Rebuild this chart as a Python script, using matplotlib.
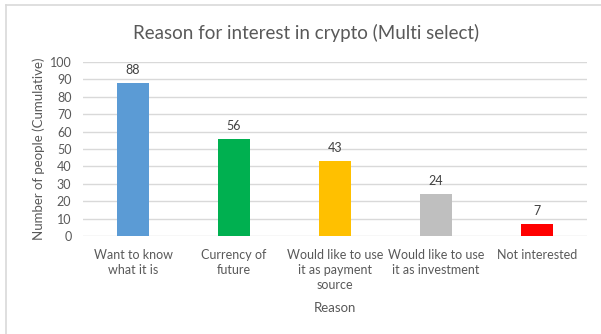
import matplotlib
matplotlib.use('Agg')
import matplotlib.pyplot as plt
import numpy as np

plt.rcParams['font.family'] = ['Lato', 'DejaVu Sans']

reasons = ['Want to know\nwhat it is', 'Currency of\nfuture',
           'Would like to use\nit as payment\nsource',
           'Would like to use\nit as investment', 'Not interested']
counts = [88, 56, 43, 24, 7]
colors = ['#5B9BD5', '#00B050', '#FFC000', '#BFBFBF', '#FF0000']
y_ticks = list(range(0, 101, 10))

txt = '#595959'

fig = plt.figure(figsize=(6.01, 3.34), dpi=100)
ax = fig.add_axes([0.1373, 0.2934, 0.840, 0.521])

x = np.arange(len(reasons))
bars = ax.bar(x, counts, width=0.32, color=colors, zorder=3)
for b, v in zip(bars, counts):
    ax.annotate(str(v), (b.get_x() + b.get_width() / 2, v), xytext=(0, 5),
                textcoords='offset points', ha='center', va='bottom',
                fontsize=9, color='#404040')

ax.set_xlim(-0.5, len(reasons) - 0.5)
ax.set_ylim(0, 100)
ax.set_yticks(y_ticks)
ax.set_xticks(x)
ax.set_xticklabels(reasons, fontsize=9, color=txt, linespacing=1.3)
ax.tick_params(axis='y', labelsize=9, labelcolor=txt, length=0, pad=8)
ax.tick_params(axis='x', length=0, pad=9)
ax.grid(axis='y', color='#D9D9D9', linewidth=1, zorder=0)
for s in ax.spines.values():
    s.set_visible(False)

ax.set_xlabel('Reason', fontsize=9.5, color=txt, labelpad=8)
ax.set_ylabel('Number of people (Cumulative)', fontsize=9.5, color=txt, labelpad=3)
fig.text(0.51, 0.90, 'Reason for interest in crypto (Multi select)',
         ha='center', va='center', fontsize=13.5, color=txt)

# light frame around the chart (top and left edges)
fig.add_artist(plt.Line2D([0.010, 1.0], [0.985, 0.985], transform=fig.transFigure,
                          color='#D9D9D9', linewidth=1.2))
fig.add_artist(plt.Line2D([0.010, 0.010], [0.0, 0.985], transform=fig.transFigure,
                          color='#D9D9D9', linewidth=1.2))

fig.savefig('out.png', dpi=100)
